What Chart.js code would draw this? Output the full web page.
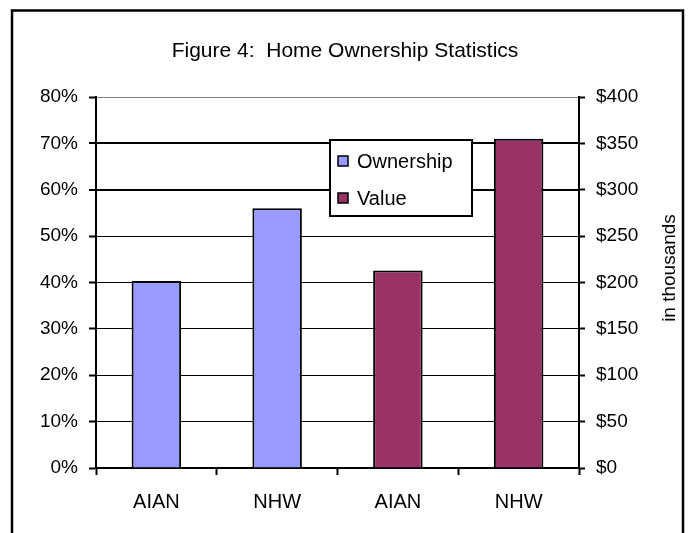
<!DOCTYPE html>
<html>
<head>
<meta charset="utf-8">
<script src="https://cdn.jsdelivr.net/npm/chart.js@4.4.0/dist/chart.umd.min.js"></script>
<style>
  html, body { margin: 0; padding: 0; background: #fff; }
  #wrap { width: 688px; height: 533px; position: relative; }
</style>
</head>
<body>
<div id="wrap"><canvas id="homeChart"></canvas></div>
<script>
// --- Data ---
const categories = ['AIAN', 'NHW', 'AIAN', 'NHW'];
const ownershipPct = [40.3, 56.0, null, null];     // left axis, %
const homeValueK = [null, null, 213, 355];         // right axis, $ thousands
const pctTicks = [0, 10, 20, 30, 40, 50, 60, 70, 80];
const dollarTicks = [0, 50, 100, 150, 200, 250, 300, 350, 400];

const FONT = '"Liberation Sans", Arial, sans-serif';

// frame, title, right axis title and the boxed legend
const decor = {
  id: 'decor',
  beforeDraw(chart) {
    const c = chart.ctx;
    c.save();
    c.fillStyle = '#fff';
    c.fillRect(0, 0, chart.width, chart.height);
    c.restore();
  },
  afterDraw(chart) {
    const c = chart.ctx;
    c.save();
    c.strokeStyle = '#000';
    c.lineWidth = 2.5;
    c.strokeRect(12, 10.5, 671, 600);

    c.fillStyle = '#000';
    c.font = '21px ' + FONT;
    c.textAlign = 'center';
    c.textBaseline = 'alphabetic';
    c.fillText('Figure 4:  Home Ownership Statistics', 345, 56.5);

    c.save();
    c.translate(670, 268);
    c.rotate(-Math.PI / 2);
    c.font = '19px ' + FONT;
    c.textBaseline = 'middle';
    c.fillText('in thousands', 0, 0);
    c.restore();

    // legend box
    c.fillStyle = '#fff';
    c.fillRect(330, 140, 142, 76);
    c.lineWidth = 2;
    c.strokeRect(330, 140, 142, 76);
    const items = chart.data.datasets.map(d => [d.label, d.backgroundColor]);
    items.forEach(([label, color], i) => {
      const cy = 161 + i * 37;
      c.fillStyle = color;
      c.fillRect(338, cy - 5, 10, 10);
      c.lineWidth = 1.5;
      c.strokeStyle = '#000';
      c.strokeRect(338, cy - 5, 10, 10);
      c.fillStyle = '#000';
      c.font = '20px ' + FONT;
      c.textAlign = 'left';
      c.textBaseline = 'middle';
      c.fillText(label, 357, cy + 1);
    });
    c.restore();
  }
};

const ctx = document.getElementById('homeChart').getContext('2d');

new Chart(ctx, {
  type: 'bar',
  data: {
    labels: categories,
    datasets: [
      {
        label: 'Ownership',
        data: ownershipPct,
        yAxisID: 'y',
        backgroundColor: '#9999FF',
        borderColor: '#000',
        borderWidth: 2
      },
      {
        label: 'Value',
        data: homeValueK,
        yAxisID: 'y1',
        backgroundColor: '#993366',
        borderColor: '#000',
        borderWidth: 2
      }
    ]
  },
  options: {
    responsive: true,
    maintainAspectRatio: false,
    animation: false,
    devicePixelRatio: 1,
    layout: { padding: { top: 97, left: 0, right: 0, bottom: 0 } },
    datasets: { bar: { grouped: false, barPercentage: 0.41, categoryPercentage: 1 } },
    plugins: {
      legend: { display: false },
      title: { display: false },
      tooltip: { enabled: false }
    },
    scales: {
      x: {
        afterFit: s => { s.height = 65; },
        border: { color: '#000', width: 2 },
        grid: {
          offset: true,
          drawOnChartArea: false,
          tickLength: 7,
          tickColor: '#000',
          tickWidth: 2
        },
        ticks: { color: '#000', font: { family: FONT, size: 20 }, padding: 15 }
      },
      y: {
        position: 'left',
        min: 0,
        max: 80,
        afterFit: s => { s.width = 96; },
        afterBuildTicks: s => { s.ticks = pctTicks.map(v => ({ value: v })); },
        border: { color: '#000', width: 2 },
        grid: {
          color: c => (c.tick && c.tick.value === 80 ? '#808080' : '#000'),
          lineWidth: c => (c.tick && (c.tick.value === 60 || c.tick.value === 70) ? 2 : 1),
          tickLength: 7,
          tickColor: '#000',
          tickWidth: 2
        },
        ticks: {
          color: '#000',
          padding: 11,
          font: { family: FONT, size: 19 },
          callback: v => v + '%'
        }
      },
      y1: {
        position: 'right',
        min: 0,
        max: 400,
        afterFit: s => { s.width = 109; },
        afterBuildTicks: s => { s.ticks = dollarTicks.map(v => ({ value: v })); },
        border: { color: '#000', width: 2 },
        grid: {
          drawOnChartArea: false,
          tickLength: 6,
          tickColor: '#000',
          tickWidth: 2
        },
        ticks: {
          color: '#000',
          padding: 11,
          font: { family: FONT, size: 19 },
          callback: v => '$' + v
        }
      }
    }
  },
  plugins: [decor]
});
</script>
</body>
</html>
